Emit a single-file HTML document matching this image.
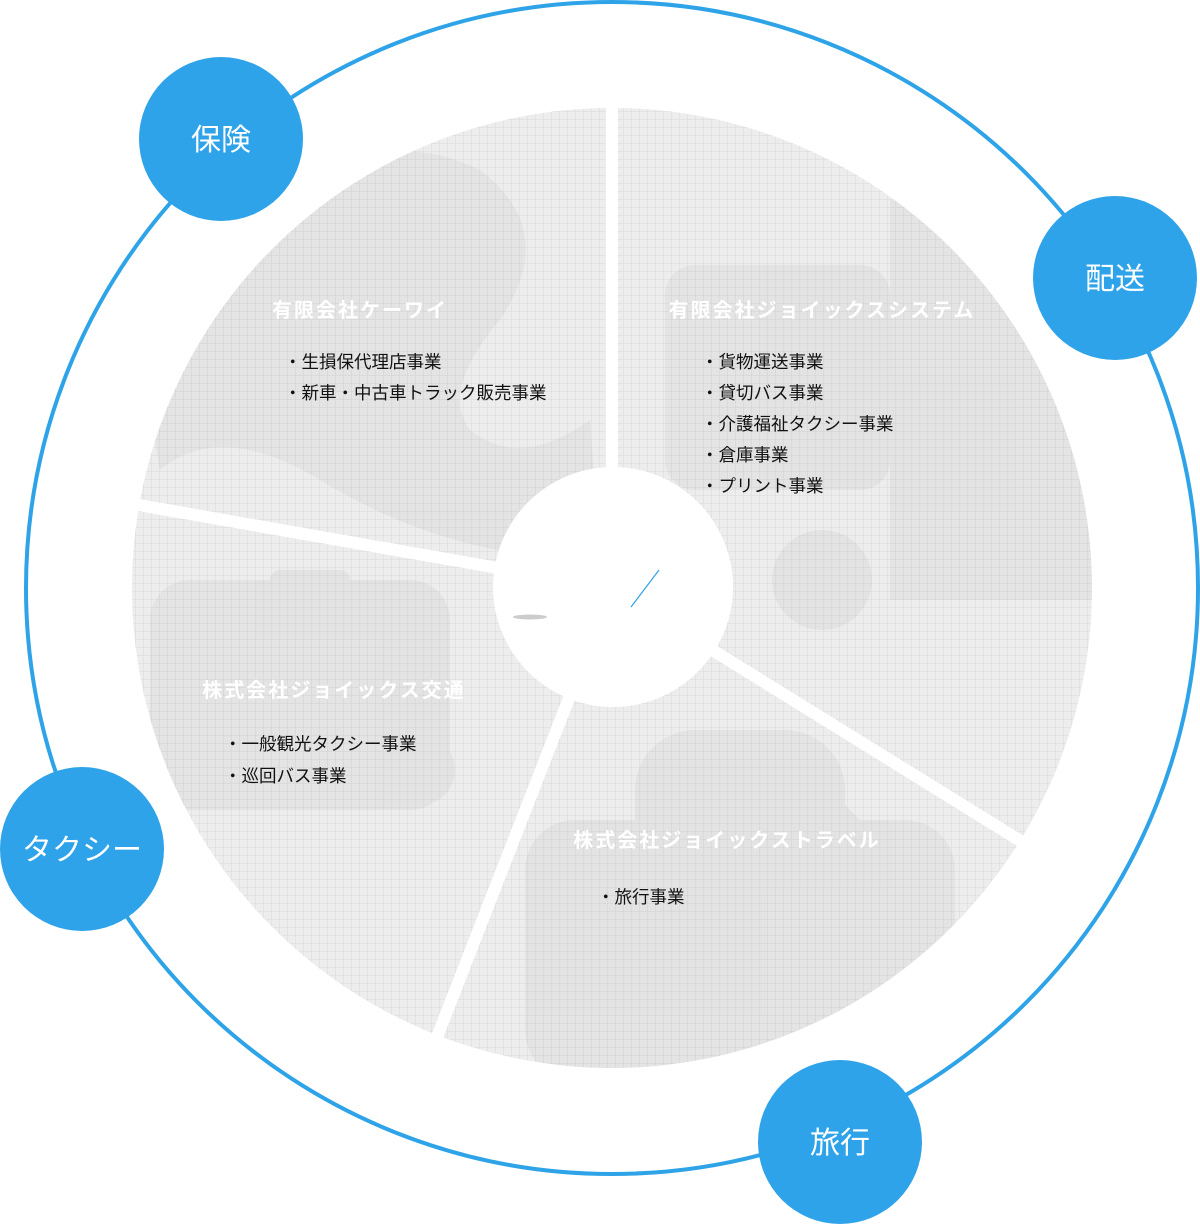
<!DOCTYPE html>
<html><head><meta charset="utf-8"><style>
html,body{margin:0;padding:0;background:#fff;width:1200px;height:1225px;overflow:hidden}
svg{display:block}
text{font-family:"Liberation Sans","Noto Sans CJK JP",sans-serif}
</style></head><body>
<svg width="1200" height="1225" viewBox="0 0 1200 1225" xmlns="http://www.w3.org/2000/svg">
<defs>
<pattern id="g" width="8" height="8" patternUnits="userSpaceOnUse">
<rect width="8" height="8" fill="#ededed"/>
<path d="M8 0V8M0 8H8" stroke="#d9d9d9" stroke-width="1"/>
</pattern>
<clipPath id="pie"><circle cx="612" cy="588" r="480"/></clipPath>
</defs>
<circle cx="612" cy="588" r="586" fill="none" stroke="#2ea3e8" stroke-width="4"/>
<circle cx="612" cy="588" r="480" fill="url(#g)"/>
<g clip-path="url(#pie)" fill="#000" opacity="0.035">
<path d="M240 200 Q380 120 480 170 Q560 230 500 320 Q440 390 470 430 Q520 470 590 420 L600 560 Q450 560 320 480 Q220 420 160 470 L140 360 Q170 260 240 200Z"/>
<rect x="665" y="265" width="225" height="225" rx="30"/>
<rect x="890" y="200" width="220" height="400"/>
<circle cx="822" cy="580" r="50"/>
<rect x="150" y="580" width="300" height="230" rx="40"/>
<rect x="270" y="570" width="80" height="40" rx="10"/>
<circle cx="205" cy="770" r="35"/>
<circle cx="420" cy="770" r="35"/>
<rect x="525" y="820" width="430" height="260" rx="50"/>
<rect x="635" y="730" width="210" height="200" rx="60"/>
<path d="M690 900 L820 780 L880 840 L750 980Z"/>
</g>
<g stroke="#fff" stroke-width="12">
<line x1="612" y1="588" x2="612" y2="90"/>
<line x1="612" y1="588" x2="1040" y2="853"/>
<line x1="612" y1="588" x2="432" y2="1050"/>
<line x1="612" y1="588" x2="110" y2="500"/>
</g>
<circle cx="613" cy="587" r="120" fill="#fff"/>
<line x1="631" y1="607" x2="659" y2="570" stroke="#2ea3e8" stroke-width="1.2"/>
<ellipse cx="530" cy="617" rx="17" ry="2.5" fill="#ccc"/>
<g fill="#fff" font-size="20" font-weight="bold" text-anchor="middle" letter-spacing="2">
<text x="360" y="317">有限会社ケーワイ</text>
<text x="822" y="317">有限会社ジョイックスシステム</text>
<text x="334" y="697">株式会社ジョイックス交通</text>
<text x="727" y="847">株式会社ジョイックストラベル</text>
</g>
<g fill="#111" font-size="17.5">
<text x="284" y="368">・生損保代理店事業</text>
<text x="284" y="399">・新車・中古車トラック販売事業</text>
<text x="701" y="368">・貨物運送事業</text>
<text x="701" y="399">・貸切バス事業</text>
<text x="701" y="430">・介護福祉タクシー事業</text>
<text x="701" y="461">・倉庫事業</text>
<text x="701" y="492">・プリント事業</text>
<text x="224" y="750">・一般観光タクシー事業</text>
<text x="224" y="782">・巡回バス事業</text>
<text x="597" y="903">・旅行事業</text>
</g>
<g fill="#2fa3ea">
<circle cx="221" cy="139" r="82"/>
<circle cx="1115" cy="278" r="82"/>
<circle cx="82" cy="849" r="82"/>
<circle cx="840" cy="1142" r="82"/>
</g>
<g fill="#fff" font-size="30" text-anchor="middle">
<text x="221" y="150">保険</text>
<text x="1115" y="289">配送</text>
<text x="82" y="860">タクシー</text>
<text x="840" y="1153">旅行</text>
</g>
</svg>
</body></html>
